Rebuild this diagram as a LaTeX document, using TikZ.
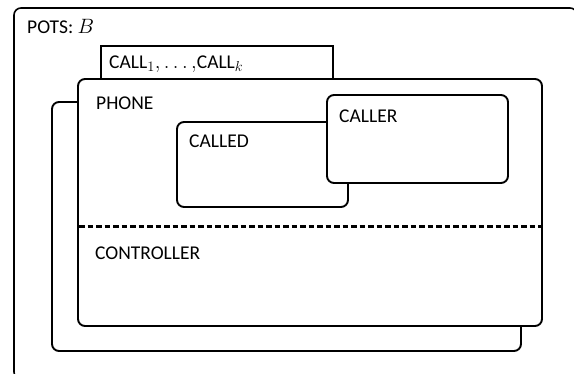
\documentclass[tikz,border=0pt]{standalone}
\usepackage{fontspec}
\setmainfont{Carlito}
\begin{document}
\begin{tikzpicture}[x=1pt,y=-1pt,
  box/.style={draw, line width=1.9pt, rounded corners=7pt, fill=white},
  flatbox/.style={draw, line width=1.2pt, fill=white},
  lbl/.style={anchor=base west, inner sep=0pt, font=\fontsize{19.5}{23}\selectfont},
  sep/.style={line width=3pt, dash pattern=on 5.5pt off 3pt}]
  \useasboundingbox (0,0) rectangle (574,373);
  \begin{scope}
    \clip (0,0) rectangle (574,373);
    % system boundary
    \draw[box, line width=1.6pt] (14,8) rectangle (577,379);
  \end{scope}
  \node[lbl] (pots) at (27,33) {POTS: $B$};
  % call instances
  \draw[flatbox] (101,46) rectangle (333,90);
  \node[lbl] (calls) at (109,68) {CALL$_1,\ldots,$CALL$_k$};
  % stacked phone instances
  \draw[box] (52,102) rectangle (521,351);
  \draw[box] (78,79) rectangle (542,326);
  \node[lbl] (phone) at (96,109) {PHONE};
  % roles inside a phone
  \draw[box] (177,122) rectangle (348,207);
  \node[lbl] (called) at (189,147) {CALLED};
  \draw[box] (327,95) rectangle (508,183);
  \node[lbl] (caller) at (339,122) {CALLER};
  % partition between roles and controller
  \coordinate (sepL) at (79,226);
  \coordinate (sepR) at (541,226);
  \draw[sep] (sepL) -- (sepR);
  \node[lbl] (ctrl) at (95,259) {CONTROLLER};
\end{tikzpicture}
\end{document}
